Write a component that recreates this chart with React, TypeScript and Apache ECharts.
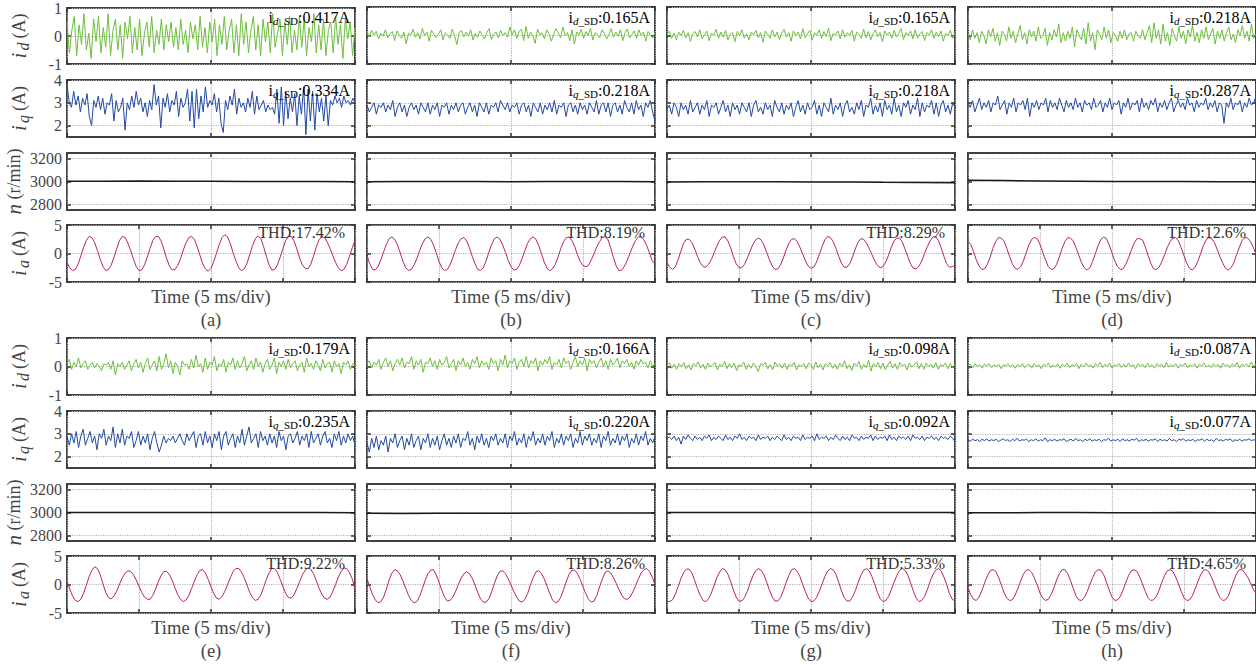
import React, { useEffect, useRef } from "react";
import * as echarts from "echarts";

// ---------- labels ----------
const PANELS = ["(a)", "(b)", "(c)", "(d)", "(e)", "(f)", "(g)", "(h)"];
const ID_SD = ["0.417", "0.165", "0.165", "0.218", "0.179", "0.166", "0.098", "0.087"];
const IQ_SD = ["0.334", "0.218", "0.218", "0.287", "0.235", "0.220", "0.092", "0.077"];
const THD = ["17.42", "8.19", "8.29", "12.6", "9.22", "8.26", "5.33", "4.65"];
const X_SPAN_MS = 20; // 4 divisions x 5 ms

// ---------- panel (a) ----------
const ID_A = [0.5,-0.6,0.2,0.7,-0.7,0.4,-0.3,0.8,-0.5,0.1,-0.8,0.6,-0.2,0.7,-0.6,0.3,-0.4,0.8,-0.7,0.2,0.6,-0.5,0.4,-0.8,0.5,-0.1,0.7,-0.6,0.3,-0.5,0.6,-0.7,0.1,0.5,-0.4,0.7,-0.6,0.2,-0.3,0.6,-0.5,0.4,-0.2,0.5,-0.4,0.3,-0.5,0.6,-0.3,0.2,-0.6,0.5,-0.1,0.4,-0.5,0.7,-0.4,0.3,-0.6,0.5,-0.2,0.6,-0.7,0.4,-0.3,0.7,-0.5,0.2,0.6,-0.6,0.4,-0.7,0.8,-0.3,0.5,-0.6,0.2,0.7,-0.5,0.4,-0.7,0.6,-0.2,0.5,-0.6,0.8,-0.4,0.1,0.6,-0.7,0.5,-0.3,0.7,-0.6,0.2,-0.5,0.7,-0.4,0.6,-0.7,0.3,-0.2,0.8,-0.6,0.4,-0.5,0.6,-0.7,0.2,0.5,-0.6,0.7,-0.3,0.4,-0.8,0.6,-0.1,0.5,-0.7,0.3];
const IQ_A = [3.8,3.0,2.8,3.5,2.9,3.3,2.6,3.2,2.9,3.4,2.4,2.0,3.1,2.8,3.3,2.7,3.2,2.5,3.0,2.9,3.4,2.2,3.1,2.6,2.8,3.2,1.8,3.0,2.7,3.3,2.8,3.5,2.9,3.2,2.6,3.0,2.4,3.1,2.7,3.8,2.9,3.3,1.9,3.2,2.8,3.4,2.6,3.1,2.9,3.5,2.4,3.2,2.8,3.0,3.6,2.2,3.5,1.9,3.6,2.3,3.3,2.6,3.7,2.8,3.1,2.9,3.4,2.6,3.2,2.1,1.7,3.1,2.7,3.3,2.9,3.6,2.5,3.2,2.8,3.0,2.6,3.2,2.8,3.5,2.5,3.3,2.7,2.9,3.1,2.6,2.9,2.7,2.8,2.5,3.6,2.1,3.7,2.0,3.5,2.3,3.2,2.6,3.4,2.0,3.3,2.5,3.7,1.6,3.6,2.2,3.5,1.8,3.4,2.6,3.2,2.2,3.3,2.0,3.1,2.9,3.3,3.0,3.2,2.8,3.3,3.0,3.1,2.9,3.2,3.0];
const N_A = [3002,3003,3004,3003,3002,3001,3000,2999,2998];
const IA_A = [-1.6,-2.5,-3.0,-2.8,-1.9,-0.4,1.1,2.3,3.0,2.8,1.9,0.5,-1.0,-2.3,-3.0,-2.8,-2.0,-0.6,0.9,2.3,3.0,2.8,1.8,0.5,-1.0,-2.3,-3.0,-2.9,-2.0,-0.6,0.9,2.3,3.0,3.0,2.2,0.7,-0.9,-2.2,-2.9,-2.8,-2.1,-0.9,0.6,1.9,2.8,3.0,2.5,1.2,-0.3,-1.8,-2.7,-3.1,-2.6,-1.4,0.1,1.6,2.8,3.3,2.9,1.7,0.1,-1.3,-2.5,-3.0,-2.7,-1.7,-0.2,1.4,2.6,3.1,2.6,1.2,-0.5,-2.0,-2.9,-2.8,-2.0,-0.6,0.9,2.3,3.0,3.0,2.2,0.8,-0.8,-2.0,-2.6,-2.7,-1.9,-0.5,1.1,2.4,3.0,2.8,2.0,0.9,-0.4,-1.6,-2.5,-3.0,-2.8,-1.9,-0.5,1.0,2.3];

// ---------- panel (b) ----------
const ID_B = [0.12,-0.05,0.18,0.02,0.15,-0.12,0.08,-0.02,0.2,-0.08,0.05,0.14,-0.18,0.16,0.0,-0.1,0.12,-0.3,0.08,0.02,0.22,-0.06,0.1,-0.12,0.25,0.0,0.12,-0.2,0.18,0.06,-0.08,0.04,0.2,-0.15,0.1,0.02,-0.1,0.22,0.0,-0.32,0.1,0.18,-0.05,0.12,-0.02,0.2,-0.16,0.08,-0.06,0.16,0.02,-0.12,0.1,0.24,-0.14,0.04,0.12,-0.08,0.18,0.0,0.1,-0.06,0.3,0.02,0.2,-0.1,0.14,0.22,-0.18,0.32,-0.1,0.12,0.0,-0.28,0.22,0.02,0.1,-0.12,0.2,0.06,-0.2,0.04,0.24,0.1,-0.08,0.3,0.0,0.1,-0.18,0.2,-0.3,0.12,0.02,0.22,-0.1,0.14,0.0,0.26,-0.16,0.1,0.04,-0.08,0.2,0.08,-0.12,0.02,0.24,-0.06,0.12,-0.02,0.2,-0.18,0.1,0.22,-0.08,0.04,0.16,-0.1,0.2,0.0,0.12,-0.2,0.14,0.02,-0.08,0.1];
const IQ_B = [2.9,2.6,2.8,3.0,2.5,2.9,2.8,3.0,2.6,2.9,2.7,3.1,2.4,2.8,3.0,2.6,2.9,2.4,2.8,3.0,2.7,2.9,2.5,3.0,2.8,2.6,3.0,2.5,2.9,2.7,3.0,2.4,2.9,2.8,3.0,2.5,2.9,2.7,3.0,2.6,2.9,3.0,2.5,2.8,3.0,2.6,2.9,2.4,3.0,2.8,2.6,3.0,2.5,2.9,2.8,3.0,2.6,3.1,2.9,2.7,3.0,2.6,2.9,2.8,3.0,2.5,2.9,3.0,2.6,2.9,2.4,3.0,2.8,2.6,3.0,2.5,2.9,2.7,3.0,2.6,3.1,2.5,2.9,2.8,3.0,2.4,2.9,3.0,2.6,2.9,2.5,3.0,2.7,2.9,2.5,3.0,2.8,2.6,3.1,2.5,2.9,3.0,2.6,3.0,2.4,2.9,3.0,2.6,2.9,2.5,3.1,2.8,2.6,3.0,2.5,3.1,2.7,2.9,2.4,3.0,2.8,3.1,2.6,2.2];
const N_B = [2998,2999,3000,2999,2998,2999,3000,2999,2998];
const IA_B = [-0.4,-1.8,-2.8,-2.9,-2.3,-1.1,0.3,1.6,2.6,2.9,2.5,1.5,0.1,-1.4,-2.5,-3.0,-2.8,-2.0,-0.9,0.5,1.7,2.6,2.9,2.5,1.5,0.1,-1.4,-2.5,-3.0,-2.8,-2.0,-0.7,0.7,1.9,2.6,2.8,2.2,1.0,-0.5,-1.8,-2.8,-3.0,-2.5,-1.3,0.2,1.6,2.6,2.9,2.5,1.5,0.2,-1.2,-2.3,-2.9,-2.8,-2.1,-0.9,0.5,1.8,2.6,2.9,2.5,1.4,0.0,-1.5,-2.6,-3.0,-2.7,-1.9,-0.6,0.9,2.1,2.8,2.9,2.3,1.2,-0.2,-1.4,-2.1,-2.3,-2.1,-1.1,0.0,1.2,2.1,2.8,3.0,2.4,1.0,-0.7,-2.2,-3.0,-2.9,-2.2,-1.2,0.1,1.3,2.3,2.9,3.0,2.4,1.4,0.1,-1.3,-1.8];

// ---------- panel (c) ----------
const ID_C = [0.05,0.15,-0.1,0.08,-0.15,0.12,0.0,0.18,-0.08,0.1,-0.2,0.06,0.14,-0.05,0.2,-0.12,0.02,0.16,-0.18,0.08,0.0,0.22,-0.1,0.12,-0.06,0.18,-0.15,0.04,0.1,-0.22,0.14,0.0,0.2,-0.1,0.06,-0.16,0.12,0.02,0.18,-0.08,0.1,-0.24,0.16,0.04,-0.1,0.2,-0.05,0.12,-0.14,0.08,0.22,-0.06,0.1,-0.2,0.16,0.0,0.12,-0.12,0.24,-0.08,0.06,0.18,-0.16,0.1,0.0,0.2,-0.1,0.14,-0.04,0.26,-0.18,0.08,0.02,0.16,-0.12,0.2,-0.06,0.1,0.0,0.18,-0.2,0.12,0.04,-0.1,0.22,-0.08,0.14,-0.16,0.06,0.2,-0.04,0.1,-0.22,0.16,0.02,0.12,-0.1,0.18,-0.06,0.08,0.24,-0.14,0.1,0.0,0.16,-0.12,0.2,-0.08,0.06,0.14,-0.18,0.1,0.02,0.2,-0.1,0.12,-0.04,0.16,-0.2,0.08,0.0,0.18,-0.1,0.1];
const IQ_C = [2.7,2.9,2.5,3.0,2.8,2.4,3.0,2.7,2.9,2.5,3.1,2.6,2.8,3.0,2.5,2.9,2.7,3.1,2.4,2.9,2.8,3.0,2.5,2.8,3.1,2.6,2.9,2.4,3.0,2.7,2.9,2.5,3.0,2.8,2.6,3.0,2.4,2.9,3.1,2.6,2.8,2.5,3.0,2.7,2.9,2.4,3.1,2.8,2.6,3.0,2.5,2.9,2.7,3.0,2.4,2.8,3.1,2.6,2.9,2.5,3.0,2.7,2.8,3.1,2.5,2.9,2.4,3.0,2.8,2.6,3.2,2.5,2.9,2.7,3.0,2.4,2.9,3.1,2.6,2.8,2.5,3.0,2.7,3.1,2.4,2.9,2.8,3.2,2.5,2.9,2.6,3.0,2.4,3.1,2.7,2.9,2.5,3.2,2.6,2.9,2.4,3.0,2.8,3.1,2.5,2.9,2.7,3.2,2.4,3.0,2.6,2.9,2.8,3.1,2.5,3.0,2.4,2.9,3.1,2.6,2.9,2.5,3.0,2.8];
const N_C = [2995,2997,2998,2997,2996,2995,2993,2992,2990];
const IA_C = [-1.6,-2.4,-2.8,-2.3,-1.1,0.4,1.8,2.5,2.5,1.9,0.8,-0.5,-1.6,-2.3,-2.4,-1.9,-1.1,0.1,1.3,2.3,2.9,2.9,2.2,1.0,-0.6,-1.8,-2.5,-2.5,-1.9,-0.8,0.4,1.6,2.4,2.7,2.4,1.5,0.2,-1.1,-2.2,-2.8,-2.7,-2.0,-0.8,0.6,1.8,2.5,2.6,2.1,1.1,-0.1,-1.3,-2.2,-2.6,-2.4,-1.5,-0.2,1.2,2.4,3.0,2.8,2.1,0.9,-0.5,-1.7,-2.4,-2.4,-1.8,-0.6,0.8,2.0,2.6,2.5,1.9,0.9,-0.2,-1.3,-2.1,-2.5,-2.3,-1.5,-0.3,1.1,2.2,2.7,2.7,2.0,0.7,-0.6,-1.9,-2.6,-2.7,-2.2,-1.3,0.0,1.2,2.2,2.9,3.0,2.3,1.0,-0.5,-1.8,-2.4,-2.3,-2.1];

// ---------- panel (d) ----------
const ID_D = [0.05,-0.15,0.2,-0.1,0.1,-0.25,0.15,0.0,-0.3,0.2,-0.05,0.25,-0.2,0.1,-0.35,0.15,0.05,-0.2,0.3,-0.1,0.15,-0.25,0.05,0.35,-0.15,0.1,-0.3,0.2,-0.05,0.15,-0.2,0.3,-0.1,0.0,0.25,-0.35,0.1,-0.15,0.2,-0.05,0.4,-0.25,0.1,-0.2,0.15,-0.1,0.3,-0.4,0.2,0.0,-0.15,0.25,-0.3,0.45,-0.2,0.1,-0.5,0.2,0.05,-0.15,0.3,-0.1,0.2,-0.25,0.1,0.0,-0.2,0.15,-0.1,0.2,-0.15,0.05,0.1,-0.2,0.15,0.0,-0.1,0.2,-0.15,0.1,0.35,-0.25,0.45,-0.1,0.2,-0.3,0.4,-0.2,0.1,-0.35,0.25,0.0,-0.2,0.3,-0.1,0.15,-0.3,0.2,-0.05,0.35,-0.2,0.1,-0.25,0.2,-0.1,0.3,-0.15,0.05,0.25,-0.3,0.15,-0.1,0.2,-0.2,0.1,0.3,-0.15,0.05,-0.25,0.2,0.0,0.35,-0.1,0.15,-0.2,0.4,-0.1,0.05];
const IQ_D = [3.0,2.8,3.1,2.6,2.9,3.2,2.7,3.0,2.8,3.1,2.6,3.0,2.9,3.3,2.7,2.9,3.1,2.5,3.0,2.8,3.2,2.6,3.0,2.9,3.1,2.7,3.2,2.4,3.0,2.8,3.1,2.7,3.0,2.9,3.2,2.6,3.1,2.8,3.0,2.7,3.2,2.9,2.6,3.1,2.8,3.0,2.7,3.2,2.8,3.0,2.6,3.1,2.9,3.0,2.7,3.2,2.8,2.9,3.1,2.6,3.0,2.8,3.2,2.7,3.0,2.9,3.1,2.5,3.0,2.8,3.2,2.7,3.0,2.9,3.1,2.6,3.2,2.8,3.0,2.7,3.1,2.9,3.2,2.6,3.0,2.8,3.1,2.7,3.0,3.2,2.6,2.9,3.1,2.8,3.0,2.7,3.2,2.9,3.0,2.6,3.1,2.8,3.0,2.9,3.2,2.7,3.0,2.8,3.1,2.6,3.0,2.9,2.1,3.0,2.8,3.2,2.7,3.0,2.9,3.1,2.6,3.0,2.8,3.2,2.9,3.0,3.3];
const N_D = [3010,3008,3005,3003,3001,3000,2999,2998,2997];
const IA_D = [2.2,1.6,0.3,-1.1,-2.2,-2.8,-2.7,-1.9,-0.6,0.9,2.1,2.8,2.7,2.2,0.9,-0.5,-1.8,-2.6,-2.8,-2.3,-1.3,0.1,1.5,2.5,2.8,2.6,1.6,0.2,-1.1,-2.3,-2.8,-2.7,-1.9,-0.6,0.9,2.1,2.8,2.7,2.2,1.0,-0.3,-1.6,-2.5,-2.9,-2.5,-1.4,0.0,1.4,2.5,2.9,2.6,1.5,0.1,-1.3,-2.3,-2.8,-2.7,-1.9,-0.7,0.6,1.8,2.6,2.6,2.4,1.2,-0.3,-1.7,-2.7,-2.8,-2.4,-1.4,-0.2,1.1,2.1,2.7,2.8,2.2,1.0,-0.4,-1.7,-2.6,-2.9,-2.4,-1.4,0.0,1.4,2.4,2.8,2.6,1.9,0.7,-0.6,-1.7,-2.6,-2.9,-2.5,-1.6,-0.2,1.1,2.3,2.8,2.7,2.1,1.1,-0.1];

// ---------- panel (e) ----------
const ID_E = [0.1,0.25,-0.1,0.15,0.0,0.3,-0.05,0.1,0.2,-0.1,0.05,0.15,-0.05,0.1,0.0,-0.15,0.1,0.05,0.15,-0.1,0.2,-0.3,0.1,0.0,0.15,-0.1,0.05,0.2,-0.15,0.1,0.25,-0.05,0.15,-0.2,0.1,0.3,-0.1,0.05,0.2,-0.15,0.35,-0.1,0.1,0.45,-0.05,0.2,-0.25,0.15,0.0,-0.3,0.2,0.05,0.1,-0.1,0.25,-0.05,0.4,0.0,0.1,-0.2,0.3,-0.1,0.15,0.05,0.35,-0.15,0.1,0.0,0.25,-0.2,0.15,0.05,0.3,-0.1,0.2,-0.05,0.1,0.35,-0.15,0.05,0.2,-0.1,0.3,0.0,0.15,-0.2,0.1,0.25,-0.1,0.05,0.3,-0.25,0.15,0.0,0.2,-0.1,0.25,-0.05,0.1,0.2,-0.15,0.05,0.15,-0.2,0.3,0.0,0.1,-0.1,0.2,0.05,-0.15,0.25,-0.05,0.1,0.15,-0.2,0.2,0.0,0.1,-0.25,0.15,0.05,0.2,-0.1,0.1,0.05];
const IQ_E = [2.9,2.5,3.0,2.6,3.1,2.4,2.9,3.2,2.5,2.8,3.1,2.6,2.9,2.3,3.0,2.8,3.2,2.5,2.9,2.7,3.3,2.4,3.0,2.6,3.2,2.5,2.9,2.8,3.1,2.4,2.7,3.1,2.5,2.9,2.6,3.0,2.3,2.8,3.1,2.6,2.2,2.5,2.9,2.6,2.8,2.7,2.9,2.6,2.8,3.0,2.7,2.5,3.0,2.7,2.9,3.1,2.4,2.9,3.0,2.5,3.1,2.6,2.9,2.4,3.0,2.7,3.1,2.3,2.9,3.1,2.5,2.8,3.0,2.4,2.9,2.6,3.2,2.5,2.9,3.3,2.6,2.8,3.0,2.4,3.1,2.7,2.9,2.5,3.0,2.6,2.9,2.4,3.1,2.7,2.9,2.3,2.9,3.0,2.6,2.8,3.1,2.5,2.9,2.7,3.0,2.4,3.1,2.6,2.8,3.0,2.5,2.9,3.1,2.6,2.8,2.4,3.0,2.7,3.1,2.5,2.9,2.6,3.0,2.7,2.9,2.5];
const N_E = [3001,3001,3000,3000,3000,2999,2999,2999,2998];
const IA_E = [0.5,-0.8,-2.0,-2.8,-3.0,-2.6,-1.5,-0.1,1.4,2.5,3.1,2.8,1.7,0.1,-1.4,-2.3,-2.5,-2.0,-1.1,0.1,1.2,2.0,2.4,2.3,1.7,0.8,-0.3,-1.4,-2.2,-2.6,-2.6,-1.9,-0.8,0.5,1.6,2.3,2.3,1.7,0.7,-0.6,-1.8,-2.6,-3.0,-2.7,-1.9,-0.7,0.6,1.7,2.5,2.6,2.0,0.9,-0.4,-1.6,-2.4,-2.6,-2.1,-1.2,0.0,1.2,2.3,2.8,2.8,2.2,1.2,-0.1,-1.4,-2.3,-2.8,-2.6,-1.8,-0.5,0.9,2.1,2.8,2.8,2.1,0.9,-0.4,-1.6,-2.3,-2.4,-1.8,-0.7,0.5,1.7,2.5,2.9,2.7,1.9,0.7,-0.6,-1.7,-2.4,-2.6,-2.2,-1.2,0.0,1.3,2.3,2.9,2.8,2.1,1.0,-0.7];

// ---------- panel (f) ----------
const ID_F = [0.1,0.2,-0.05,0.15,0.05,0.25,-0.1,0.15,0.3,0.0,0.2,-0.15,0.1,0.25,0.05,0.3,-0.05,0.15,0.1,0.35,-0.1,0.2,0.05,0.25,-0.2,0.15,0.1,0.3,0.0,0.2,-0.1,0.25,0.05,0.15,0.35,-0.05,0.1,0.25,-0.15,0.2,0.05,0.3,0.0,0.15,-0.1,0.25,0.1,0.35,-0.05,0.2,0.05,0.15,-0.1,0.3,0.1,0.2,-0.15,0.25,0.05,0.4,-0.05,0.2,0.1,0.3,-0.1,0.15,0.25,0.0,0.35,-0.05,0.2,0.1,0.3,-0.15,0.2,0.05,0.25,0.1,0.35,-0.1,0.15,0.05,0.25,-0.05,0.3,0.1,0.2,-0.1,0.15,0.35,0.0,0.2,0.05,0.3,-0.15,0.25,0.1,0.2,-0.05,0.15,0.3,0.0,0.2,-0.1,0.25,0.05,0.15,0.3,-0.05,0.2,0.1,0.25,0.0,0.15,-0.1,0.2,0.05,0.25,0.1,0.15,-0.05,0.2,0.0,0.1];
const IQ_F = [2.6,2.2,2.8,2.4,2.9,2.3,2.7,2.5,2.9,2.2,2.8,2.6,3.0,2.4,2.7,2.9,2.3,2.8,2.5,3.0,2.4,2.7,2.9,2.3,2.8,2.6,3.0,2.4,2.8,2.5,2.9,2.3,2.7,3.0,2.5,2.8,2.4,2.9,2.6,3.0,2.4,2.8,2.7,3.1,2.5,2.8,2.3,2.9,2.6,3.0,2.5,2.8,2.4,2.9,2.7,3.0,2.5,2.8,2.6,3.0,2.4,2.9,2.7,3.1,2.5,2.8,2.6,3.0,2.4,2.9,2.7,3.1,2.5,2.8,2.6,3.0,2.5,2.9,2.7,3.1,2.4,2.8,2.6,3.0,2.5,2.9,2.7,3.0,2.4,2.8,2.6,3.1,2.5,2.9,2.7,3.0,2.5,2.8,2.6,3.0,2.4,2.9,2.7,3.1,2.5,2.8,2.6,3.0,2.5,2.9,2.7,3.0,2.4,2.8,2.6,3.0,2.5,2.9,2.7,3.1,2.5,2.8,2.6,2.9];
const N_F = [2993,2992,2993,2994,2994,2995,2995,2996,2996];
const IA_F = [1.0,-0.4,-1.8,-2.7,-3.2,-3.0,-2.2,-0.8,0.8,2.0,2.6,2.4,1.7,0.6,-0.7,-1.9,-2.8,-3.2,-3.0,-2.1,-0.7,0.7,1.9,2.5,2.6,1.7,0.4,-1.0,-2.2,-2.9,-2.8,-2.2,-1.2,0.0,1.1,1.9,2.2,1.9,1.1,-0.1,-1.4,-2.5,-3.1,-3.1,-2.5,-1.3,0.2,1.5,2.3,2.4,1.9,1.0,-0.1,-1.2,-2.2,-2.9,-3.1,-2.6,-1.6,-0.1,1.2,2.2,2.4,1.9,1.0,-0.3,-1.6,-2.7,-3.2,-3.0,-2.2,-0.9,0.6,1.8,2.5,2.5,1.9,0.9,-0.4,-1.6,-2.6,-3.1,-2.9,-1.9,-0.4,1.0,2.1,2.4,2.0,1.2,0.2,-0.9,-1.9,-2.5,-2.6,-2.2,-1.3,-0.2,1.0,2.0,2.6,2.8,2.3,1.3,0.0];

// ---------- panel (g) ----------
const ID_G = [0.05,0.12,-0.06,0.08,-0.1,0.1,0.0,0.14,-0.08,0.06,-0.12,0.1,0.02,0.16,-0.06,0.08,-0.1,0.12,-0.02,0.06,0.14,-0.12,0.08,0.0,0.18,-0.08,0.1,-0.04,0.12,-0.14,0.06,0.02,0.16,-0.1,0.08,-0.06,0.12,0.0,-0.18,0.1,0.04,0.14,-0.08,0.06,-0.12,0.16,0.0,0.1,-0.06,0.12,-0.1,0.08,0.02,0.14,-0.12,0.06,0.0,0.1,-0.08,0.12,0.04,-0.1,0.16,-0.04,0.08,-0.12,0.1,0.02,0.14,-0.06,0.08,-0.1,0.12,0.0,0.2,-0.08,0.06,-0.14,0.12,0.02,0.18,-0.1,0.08,-0.04,0.22,-0.16,0.1,0.0,0.14,-0.08,0.12,-0.12,0.06,0.18,-0.06,0.1,-0.1,0.14,0.02,0.08,-0.12,0.12,-0.02,0.06,0.16,-0.08,0.1,-0.1,0.12,0.0,0.08,-0.06,0.14,-0.1,0.06,0.02,0.12,-0.08,0.1,-0.04,0.08];
const IQ_G = [2.8,2.85,2.75,2.9,2.7,2.85,2.55,2.9,2.75,2.95,2.8,2.7,2.9,2.75,2.85,2.7,2.9,2.8,2.95,2.7,2.85,2.75,2.9,2.8,2.7,2.95,2.75,2.85,2.7,2.9,2.8,3.0,2.75,2.85,2.7,2.9,2.8,2.85,2.7,2.95,2.75,2.85,2.8,2.9,2.7,2.85,2.75,2.9,2.8,2.7,2.95,2.75,2.85,2.7,2.9,2.8,2.85,2.7,2.95,2.75,2.85,2.8,2.9,2.7,3.0,2.75,2.85,2.8,2.9,2.7,2.85,2.75,2.95,2.8,2.7,2.9,2.75,2.85,2.7,2.95,2.8,2.85,2.7,2.9,2.75,2.85,2.8,2.95,2.7,2.9,2.75,2.85,2.8,2.9,2.7,2.95,2.75,2.85,2.7,2.9,2.8,2.85,2.75,2.9,2.7,2.95,2.8,2.85,2.75,2.9,2.7,2.85,2.8,2.9,2.75,2.85,2.7,2.9,2.8,2.85,2.75,2.9,2.8,2.65];
const N_G = [2999,3000,3000,3001,3000,3000,3001,3000,3000];
const IA_G = [-2.9,-3.0,-2.7,-1.7,-0.4,1.0,2.1,2.7,2.7,2.0,0.7,-0.7,-1.9,-2.8,-3.0,-2.5,-1.5,-0.2,1.2,2.2,2.8,2.6,1.8,0.5,-1.0,-2.2,-2.9,-2.9,-2.3,-1.2,0.2,1.5,2.4,2.8,2.5,1.7,0.4,-1.0,-2.2,-2.9,-2.9,-2.3,-1.1,0.3,1.6,2.6,2.8,2.3,1.4,0.0,-1.3,-2.4,-3.0,-2.9,-2.3,-1.2,0.1,1.4,2.3,2.8,2.6,1.8,0.4,-1.1,-2.3,-2.9,-2.9,-2.2,-1.1,0.3,1.6,2.5,2.8,2.4,1.4,0.1,-1.4,-2.5,-3.0,-2.8,-2.1,-0.9,0.4,1.6,2.5,2.8,2.5,1.6,0.2,-1.2,-2.4,-3.0,-2.8,-2.1,-0.9,0.5,1.7,2.5,2.8,2.4,1.3,0.0,-1.6,-2.6,-2.9];

// ---------- panel (h) ----------
const ID_H = [0.04,0.08,-0.04,0.1,0.0,0.06,-0.06,0.08,0.02,0.1,-0.04,0.06,0.0,0.08,-0.08,0.06,0.02,0.1,-0.02,0.06,-0.06,0.08,0.0,0.1,-0.04,0.04,0.08,-0.06,0.1,0.0,0.06,-0.08,0.08,0.02,0.12,-0.04,0.06,-0.02,0.1,-0.06,0.08,0.0,0.12,-0.04,0.06,0.02,0.1,-0.08,0.08,-0.02,0.12,0.0,0.06,-0.06,0.1,0.02,0.14,-0.04,0.08,0.0,0.12,-0.06,0.06,0.02,0.1,-0.04,0.08,-0.02,0.12,0.0,0.06,-0.08,0.1,0.02,0.08,-0.04,0.12,0.0,0.06,-0.06,0.1,0.02,0.08,-0.04,0.14,-0.02,0.06,0.0,0.1,-0.06,0.08,0.02,0.12,-0.04,0.06,0.0,0.1,-0.06,0.08,0.02,0.12,-0.02,0.06,-0.04,0.1,0.0,0.08,-0.06,0.12,0.02,0.06,-0.04,0.1,0.0,0.14,-0.06,0.08,0.02,0.1,-0.02,0.16,0.0,0.06];
const IQ_H = [2.72,2.68,2.76,2.7,2.74,2.66,2.76,2.7,2.78,2.68,2.74,2.7,2.76,2.66,2.72,2.78,2.7,2.74,2.66,2.76,2.7,2.8,2.68,2.74,2.72,2.76,2.66,2.74,2.7,2.78,2.68,2.74,2.7,2.82,2.66,2.74,2.7,2.76,2.68,2.74,2.72,2.78,2.66,2.72,2.76,2.68,2.8,2.7,2.74,2.66,2.76,2.7,2.78,2.68,2.74,2.7,2.76,2.66,2.74,2.72,2.8,2.68,2.74,2.7,2.76,2.66,2.78,2.7,2.74,2.68,2.76,2.72,2.8,2.66,2.74,2.7,2.76,2.68,2.74,2.72,2.78,2.66,2.76,2.7,2.74,2.68,2.8,2.7,2.74,2.66,2.76,2.72,2.78,2.68,2.74,2.7,2.76,2.66,2.74,2.72,2.78,2.68,2.76,2.7,2.74,2.66,2.8,2.7,2.74,2.68,2.76,2.72,2.78,2.66,2.74,2.7,2.76,2.68,2.74,2.72,2.78,2.7,2.74,2.7];
const N_H = [2998,2998,2999,2999,2998,2998,2999,2998,2998];
const IA_H = [-0.6,-1.8,-2.6,-2.8,-2.2,-1.1,0.3,1.5,2.4,2.6,2.3,1.3,0.0,-1.4,-2.4,-2.8,-2.7,-1.9,-0.7,0.6,1.8,2.5,2.6,2.1,1.1,-0.1,-1.5,-2.4,-2.8,-2.6,-1.8,-0.6,0.8,1.9,2.6,2.6,1.9,0.7,-0.7,-2.0,-2.7,-2.8,-2.3,-1.3,0.0,1.2,2.2,2.6,2.5,1.7,0.4,-1.0,-2.2,-2.8,-2.7,-2.1,-1.0,0.4,1.6,2.4,2.6,2.3,1.3,0.1,-1.2,-2.3,-2.8,-2.7,-2.1,-1.0,0.4,1.6,2.4,2.6,2.3,1.3,0.1,-1.2,-2.3,-2.8,-2.7,-2.0,-0.8,0.5,1.7,2.5,2.6,2.2,1.2,0.0,-1.3,-2.3,-2.8,-2.7,-2.0,-0.7,0.7,1.9,2.6,2.6,2.0,1.3,0.3,-0.8,-1.5];

const ID_ALL = [ID_A, ID_B, ID_C, ID_D, ID_E, ID_F, ID_G, ID_H];
const IQ_ALL = [IQ_A, IQ_B, IQ_C, IQ_D, IQ_E, IQ_F, IQ_G, IQ_H];
const N_ALL = [N_A, N_B, N_C, N_D, N_E, N_F, N_G, N_H];
const IA_ALL = [IA_A, IA_B, IA_C, IA_D, IA_E, IA_F, IA_G, IA_H];

// ---------- layout / style ----------
const FONT = '"Liberation Serif", "Times New Roman", serif';
const TXT = "#444";
const COLS = [67, 367, 667, 968];
const ROW_TOPS = [7, 80, 153, 225];
const GROUP_TOP = [0, 331];
const W = 288;
const H = 57;
const GRID_DOT = { type: "dotted", color: "#b4b4b4", width: 1.2 };

const nameRich = {
  i: { fontFamily: FONT, fontSize: 21, fontStyle: "italic", color: TXT, lineHeight: 24 },
  s: { fontFamily: FONT, fontSize: 16, fontStyle: "italic", color: TXT, lineHeight: 16, verticalAlign: "bottom", padding: [0, 0, 0, 2] },
  m: { fontFamily: FONT, fontSize: 18, color: TXT, lineHeight: 24, padding: [0, 0, 0, 4] },
  n: { fontFamily: FONT, fontSize: 18, color: TXT, lineHeight: 24 },
};

const ROWS = [
  { data: ID_ALL, min: -1, max: 1, interval: 1, color: "#6cbf3c", width: 1, name: "{i|i}{s|d}{m|(A)}", gap: 36 },
  { data: IQ_ALL, min: 1.5, max: 4, custom: [2, 3, 4], color: "#2249a3", width: 1, name: "{i|i}{s|q}{m|(A)}", gap: 36 },
  { data: N_ALL, min: 2750, max: 3250, custom: [2800, 3000, 3200], color: "#1a1a1a", width: 1.5, name: "{i|n}{n| (r/min)}", gap: 41 },
  { data: IA_ALL, min: -5, max: 5, interval: 5, color: "#b8206f", width: 1, name: "{i|i}{s|a}{m|(A)}", gap: 36 },
];

function buildOption() {
  const grid: any[] = [];
  const xAxis: any[] = [];
  const yAxis: any[] = [];
  const series: any[] = [];
  const graphic: any[] = [];
  const tick = { show: true, inside: true, length: 4, lineStyle: { color: "#333", width: 1.5 } };
  const noLine = { show: false, onZero: false };

  for (let p = 0; p < 8; p++) {
    const col = p % 4;
    const grp = Math.floor(p / 4);
    for (let r = 0; r < 4; r++) {
      const row = ROWS[r];
      const gi = p * 4 + r;
      const left = COLS[col];
      const top = GROUP_TOP[grp] + ROW_TOPS[r];
      grid.push({
        left, top, width: W, height: H, show: true,
        borderColor: "#404040", borderWidth: 2, backgroundColor: "transparent",
      });
      const xBase = {
        gridIndex: gi, type: "value", min: 0, max: X_SPAN_MS,
        interval: r === 3 ? 5 : 10,
        axisLine: noLine, axisLabel: { show: false }, axisTick: tick,
      };
      xAxis.push({
        ...xBase, position: "bottom",
        splitLine: { show: true, lineStyle: GRID_DOT },
        ...(r === 3
          ? {
              name: `Time (5 ms/div)\n${PANELS[p]}`, nameLocation: "middle", nameGap: 3,
              nameTextStyle: { fontFamily: FONT, fontSize: 18.5, color: TXT, lineHeight: 23 },
            }
          : {}),
      });
      xAxis.push({ ...xBase, position: "top", splitLine: { show: false } });

      const yTick = row.custom ? { ...tick, customValues: row.custom } : tick;
      const yBase: any = {
        gridIndex: gi, type: "value", min: row.min, max: row.max,
        axisLine: noLine, axisTick: yTick,
      };
      if (row.interval) yBase.interval = row.interval;
      yAxis.push({
        ...yBase, position: "left",
        axisLabel: {
          show: col === 0, fontFamily: FONT, fontSize: 16, color: TXT, margin: 5,
          showMinLabel: true, showMaxLabel: true,
          formatter: (v: number) => String(v),
          ...(row.custom ? { customValues: row.custom } : {}),
        },
        splitLine: { show: true, lineStyle: GRID_DOT },
        ...(col === 0
          ? {
              name: row.name, nameLocation: "middle", nameRotate: 90, nameGap: row.gap,
              nameTextStyle: { rich: nameRich },
            }
          : {}),
      });
      yAxis.push({ ...yBase, position: "right", axisLabel: { show: false }, splitLine: { show: false } });

      const arr = row.data[p];
      series.push({
        type: "line", xAxisIndex: 2 * gi, yAxisIndex: 2 * gi, showSymbol: false, symbol: "none",
        silent: true, clip: true,
        lineStyle: { color: row.color, width: row.width },
        data: arr.map((v: number, i: number) => [(i * X_SPAN_MS) / (arr.length - 1), v]),
      });

      const annRich = {
        m: { fontFamily: FONT, fontSize: 16, color: "#333", lineHeight: 18 },
        s: { fontFamily: FONT, fontSize: 11, fontStyle: "italic", color: "#333", lineHeight: 11, verticalAlign: "bottom" },
        t: { fontFamily: FONT, fontSize: 11, color: "#333", lineHeight: 11, verticalAlign: "bottom" },
      };
      if (r === 0 || r === 1) {
        const sub = r === 0 ? "d" : "q";
        const val = r === 0 ? ID_SD[p] : IQ_SD[p];
        graphic.push({
          type: "text", x: left + W - 5, y: top + 1, z: 100,
          style: { text: `{m|i}{s|${sub}}{t|_SD}{m|:${val}A}`, rich: annRich, align: "right", verticalAlign: "top" },
        });
      } else if (r === 3) {
        graphic.push({
          type: "text", x: left + W - 10, y: top - 1, z: 100,
          style: { text: `THD:${THD[p]}%`, fontFamily: FONT, fontSize: 16, fill: "#333", align: "right", verticalAlign: "top" },
        });
      }
    }
  }

  return {
    animation: false,
    backgroundColor: "#ffffff",
    textStyle: { fontFamily: FONT },
    grid, xAxis, yAxis, series, graphic,
  };
}

export default function App() {
  const ref = useRef<HTMLDivElement>(null);
  useEffect(() => {
    if (!ref.current) return;
    const chart = echarts.init(ref.current, undefined, { renderer: "svg" });
    chart.setOption(buildOption() as any);
    return () => chart.dispose();
  }, []);
  return (
    <div
      ref={ref}
      style={{ position: "fixed", left: 0, top: 0, width: 1256, height: 665, background: "#fff" }}
    />
  );
}
